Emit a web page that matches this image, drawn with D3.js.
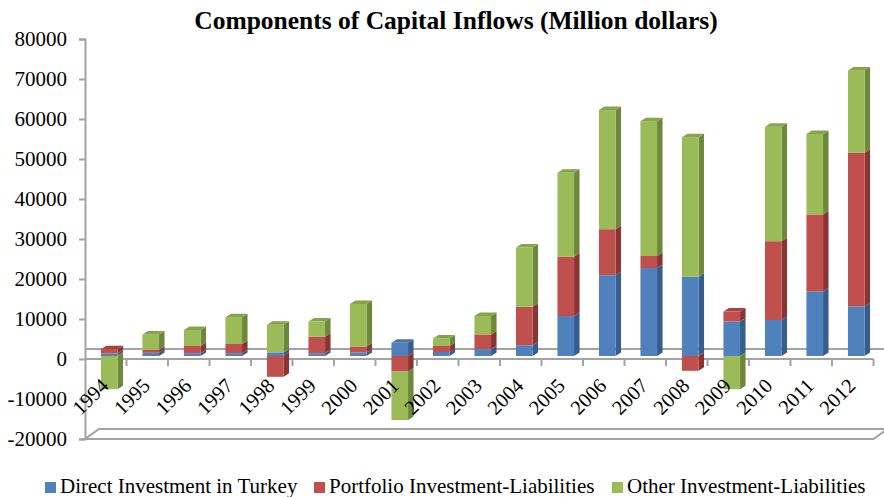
<!DOCTYPE html>
<html>
<head>
<meta charset="utf-8">
<script src="https://cdn.jsdelivr.net/npm/d3@7"></script>
<style>
  html, body { margin: 0; padding: 0; background: #ffffff; }
  svg { display: block; }
</style>
</head>
<body>
<svg id="chart" width="884" height="497"></svg>
<script>
// Components of capital inflows, million dollars
const years = ["1994","1995","1996","1997","1998","1999","2000","2001","2002","2003",
               "2004","2005","2006","2007","2008","2009","2010","2011","2012"];
const directInvestment = [600, 800, 700, 700, 900, 700, 900, 3300, 1000, 1700,
                          2700, 10000, 20200, 22000, 19800, 8600, 9000, 16100, 12400];
const portfolioInvestment = [1100, 700, 1800, 2300, -5200, 4100, 1500, -3900, 1500, 3700,
                             9600, 14800, 11500, 3000, -3700, 2500, 19700, 19300, 38400];
const otherInvestment = [-8300, 3900, 4000, 6700, 6900, 3800, 10600, -12100, 1900, 4600,
                         14800, 21000, 29800, 33700, 34900, -8300, 28600, 20100, 20600];
const seriesNames = ["Direct Investment in Turkey", "Portfolio Investment-Liabilities", "Other Investment-Liabilities"];
const yTicks = [-20000, -10000, 0, 10000, 20000, 30000, 40000, 50000, 60000, 70000, 80000];
const titleText = "Components of Capital Inflows (Million dollars)";

const keys = ["direct", "portfolio", "other"];
const colors = {
  direct:    { front: "#4f81bd", side: "#375d8c", top: "#4673aa" },
  portfolio: { front: "#c0504d", side: "#8b3533", top: "#a8413e" },
  other:     { front: "#9bbb59", side: "#6d883b", top: "#86a44a" }
};

const rows = years.map((y, i) => ({
  year: y,
  direct: directInvestment[i],
  portfolio: portfolioInvestment[i],
  other: otherInvestment[i]
}));

const svg = d3.select("#chart");
const axisColor = "#a3a3a3";
const serif = "'Liberation Serif', 'Times New Roman', serif";

// front plane of the 3D box
const left = 85, right = 873.5;
const yFront = d3.scaleLinear().domain([-20000, 80000]).range([439, 39]);
// bars stand a little behind the front plane
const yBar = d3.scaleLinear().domain([-20000, 80000]).range([436, 36]);
const x = d3.scaleBand().domain(years).range([left, right]).paddingInner(0.6).paddingOuter(0.3);
const step = x.step();
const wallDx = 14, wallDy = -10;   // full depth of the box
const barShift = 3.5;              // horizontal shift of the bar faces
const bdx = 5.5, bdy = -3.5;       // bar depth

const stack = d3.stack().keys(keys).offset(d3.stackOffsetDiverging);
const stacked = stack(rows);

// floor at the bottom of the value range
const floorY = yFront(-20000);
svg.append("path")
  .attr("d", `M${left},${floorY} L${right},${floorY} L${right + wallDx},${floorY + wallDy} L${left + wallDx},${floorY + wallDy} Z`)
  .attr("fill", "none").attr("stroke", axisColor).attr("stroke-width", 2);

// zero plane edges
const zeroY = yFront(0);
svg.append("line")
  .attr("x1", left).attr("x2", 884).attr("y1", zeroY + wallDy).attr("y2", zeroY + wallDy)
  .attr("stroke", axisColor).attr("stroke-width", 2);
svg.append("line")
  .attr("x1", left).attr("x2", right).attr("y1", zeroY).attr("y2", zeroY)
  .attr("stroke", axisColor).attr("stroke-width", 2);
// category tick marks along the front zero edge
svg.append("g").selectAll("line")
  .data(d3.range(1, years.length + 1))
  .join("line")
  .attr("x1", i => left + i * step).attr("x2", i => left + i * step)
  .attr("y1", zeroY).attr("y2", zeroY + 7)
  .attr("stroke", axisColor).attr("stroke-width", 2);

// value axis
const yAxis = d3.axisLeft(yFront).tickValues(yTicks).tickSize(6).tickPadding(12)
  .tickFormat(d => String(d));
const gy = svg.append("g").attr("transform", `translate(${left},0)`).call(yAxis)
  .attr("font-family", serif).attr("font-size", 21);
gy.select(".domain").attr("stroke", axisColor).attr("stroke-width", 2);
gy.selectAll(".tick line").attr("stroke", axisColor).attr("stroke-width", 2);
gy.selectAll(".tick text").attr("fill", "#000");

// 3D stacked bars
const bars = svg.append("g");
years.forEach((yr, i) => {
  const x0 = x(yr) + barShift;
  const x1 = x0 + x.bandwidth();
  let topKey = null, topVal = -Infinity;
  stacked.forEach(layer => {
    const seg = layer[i];
    if (seg[1] > topVal && seg[1] > 0) { topVal = seg[1]; topKey = layer.key; }
  });
  stacked.forEach(layer => {
    const seg = layer[i];
    const c = colors[layer.key];
    const yTop = yBar(Math.max(seg[0], seg[1]));
    const yBot = yBar(Math.min(seg[0], seg[1]));
    if (yBot - yTop <= 0) return;
    bars.append("path")
      .attr("d", `M${x1},${yTop} L${x1 + bdx},${yTop + bdy} L${x1 + bdx},${yBot + bdy} L${x1},${yBot} Z`)
      .attr("fill", c.side);
    bars.append("rect")
      .attr("x", x0).attr("y", yTop).attr("width", x1 - x0).attr("height", yBot - yTop)
      .attr("fill", c.front);
  });
  if (topKey) {
    const yT = yBar(topVal);
    bars.append("path")
      .attr("d", `M${x0},${yT} L${x0 + bdx},${yT + bdy} L${x1 + bdx},${yT + bdy} L${x1},${yT} Z`)
      .attr("fill", colors[topKey].top);
  }
});

// rotated year labels
svg.append("g").selectAll("text")
  .data(years)
  .join("text")
  .attr("transform", d => `translate(${x(d) + x.bandwidth() / 2 + 4},387) rotate(-45)`)
  .attr("text-anchor", "end")
  .attr("font-family", serif)
  .attr("font-size", 20.5)
  .attr("fill", "#000")
  .text(d => d);

// title
svg.append("text")
  .attr("x", 456).attr("y", 29)
  .attr("text-anchor", "middle")
  .attr("font-family", serif)
  .attr("font-weight", "bold")
  .attr("font-size", 25.5)
  .attr("fill", "#000")
  .text(titleText);

// legend
const legendX = [45, 314, 612];
const legend = svg.append("g");
keys.forEach((k, i) => {
  legend.append("rect")
    .attr("x", legendX[i]).attr("y", 482).attr("width", 11).attr("height", 11)
    .attr("fill", colors[k].front);
  legend.append("text")
    .attr("x", legendX[i] + 15).attr("y", 493)
    .attr("font-family", serif)
    .attr("font-size", 21)
    .attr("fill", "#000")
    .text(seriesNames[i]);
});
</script>
</body>
</html>
